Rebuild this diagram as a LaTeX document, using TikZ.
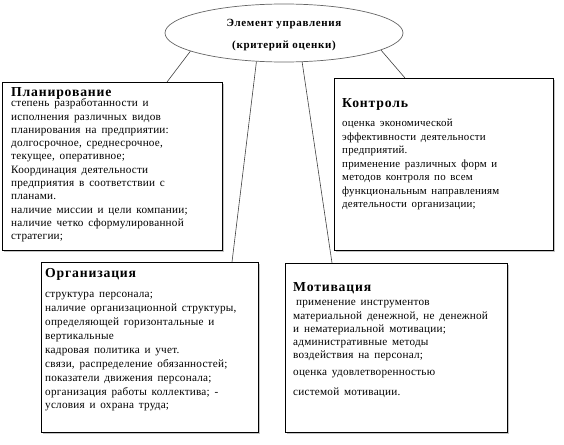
\documentclass[tikz,border=0pt]{standalone}
\usepackage{fontspec}
\setmainfont{Liberation Serif}
\newfontfamily\ttlfont[LetterSpace=6]{Liberation Serif}
\newfontfamily\bodyfont[LetterSpace=2,WordSpace=1.6]{Liberation Serif}
\usetikzlibrary{shadows,calc,shapes.geometric}
\newcommand{\fl}{\rule{0pt}{10pt}}
\begin{document}
\begin{tikzpicture}[x=1pt,y=-1pt,
 box/.style={draw=black, line width=0.8pt, fill=white, drop shadow={shadow xshift=2pt,shadow yshift=-2pt,fill=black!45}, anchor=north west, inner sep=0},
 ttl/.style={anchor=base west, inner sep=0, font=\ttlfont\bfseries\fontsize{13.7}{15}\selectfont},
 body/.style={anchor=north west, inner sep=0, align=left, font=\bodyfont\fontsize{11.2}{13.3}\selectfont},
 conn/.style={draw=black!75, line width=0.6pt}]
\useasboundingbox (0,0) rectangle (564,444);
% ellipse
\node[ellipse, draw=black!60, line width=0.7pt, fill=white, minimum width=238, minimum height=58, inner sep=0] (el) at (284,33) {};
\node[inner sep=0, align=center, font=\ttlfont\bfseries\fontsize{11}{12}\selectfont, anchor=north] (elt) at (284,16) {\fl Элемент управления\\[10pt](критерий оценки)};
% boxes
\node[box, minimum width=220, minimum height=168] (plan) at (2,82) {};
\node[box, minimum width=219, minimum height=172] (kontr) at (334,78) {};
\node[box, minimum width=217, minimum height=170] (org) at (41,262) {};
\node[box, minimum width=222, minimum height=169] (motiv) at (285,263) {};
% titles
\node[ttl] (plant) at (11,96.5) {Планирование};
\node[ttl] (kontrt) at (342,107.5) {Контроль};
\node[ttl] (orgt) at (45,277.5) {Организация};
\node[ttl] (motivt) at (293,291.5) {Мотивация};
% bodies
\node[body] (planb) at (11,96.5) {\fl степень разработанности и\\
исполнения различных видов\\
планирования на предприятии:\\
долгосрочное, среднесрочное,\\
текущее, оперативное;\\
Координация деятельности\\
предприятия в соответствии с\\
планами.\\
наличие миссии и цели компании;\\
наличие четко сформулированной\\
стратегии;};
\node[body, font=\bodyfont\fontsize{10.9}{13.5}\selectfont] (kontrb) at (342,116.5) {\fl оценка экономической\\
эффективности деятельности\\
предприятий.\\
применение различных форм и\\
методов контроля по всем\\
функциональным направлениям\\
деятельности организации;};
\node[body, font=\bodyfont\fontsize{11.2}{13.9}\selectfont] (orgb) at (45,287.5) {\fl структура персонала;\\
наличие организационной структуры,\\
определяющей горизонтальные и\\
вертикальные\\
кадровая политика и учет.\\
связи, распределение обязанностей;\\
показатели движения персонала;\\
организация работы коллектива; -\\
условия и охрана труда;};
\node[body] (motivb) at (293,295.5) {\fl\hspace{3pt}применение инструментов\\
материальной денежной, не денежной\\
и нематериальной мотивации;\\
административные методы\\
воздействия на персонал;\\[3pt]
оценка удовлетворенностью\\[7pt]
системой мотивации.};
% connectors
\draw[conn] (el.191) -- ($(plan.north west)+(165,0)$);
\draw[conn] (el.226) -- ($(org.north west)+(191,0)$);
\draw[conn] (el.302) -- ($(motiv.north west)+(47,0)$);
\draw[conn] (el.350) -- ($(kontr.north west)+(71,0)$);
\end{tikzpicture}
\end{document}
